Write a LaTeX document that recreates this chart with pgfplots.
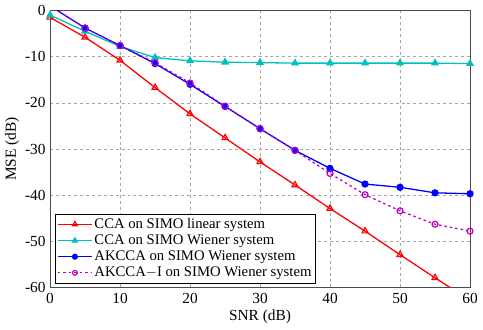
\documentclass[border=0pt]{standalone}
\usepackage{fontspec}
\setmainfont{Liberation Serif}
\usepackage{pgfplots}
\pgfplotsset{compat=1.18}

\definecolor{mcyan}{rgb}{0,0.75,0.75}
\definecolor{mmag}{rgb}{0.75,0,0.75}

\begin{document}
\fontsize{16}{19}\selectfont
\begin{tikzpicture}
\begin{axis}[
    scale only axis,
    width=423pt, height=279pt,
    xmin=0, xmax=60, ymin=-60, ymax=0,
    xtick={0,10,...,60}, ytick={-60,-50,...,0},
    /pgf/number format/assume math mode=true,
    tick label style={font=\fontsize{15.5}{18}\selectfont},
    yticklabel style={xshift=1pt},
    label style={font=\fontsize{15.5}{18}\selectfont},
    xlabel={SNR (dB)}, ylabel={MSE (dB)},
    xlabel style={yshift=4pt}, ylabel style={yshift=-5pt},
    grid=major,
    grid style={dashed, gray!70},
    major tick length=0pt,
    axis line style={black!70},
    legend cell align=left,
    legend style={font=\fontsize{14.8}{17}\selectfont, draw=black, inner sep=2pt,
        row sep=0pt, at={(0.012,0.016)}, anchor=south west},
    legend image code/.code={\draw[mark repeat=2,mark phase=2, every mark/.append style={scale=0.8}] plot coordinates {(0cm,0cm) (0.6cm,0cm) (1.2cm,0cm)};},
    every axis plot/.append style={line width=1.3pt},
]
\addplot[red, mark=triangle, mark size=3.5pt, mark options={solid, line width=1.2pt}] coordinates {
    (0,-1.5) (5,-5.8) (10,-10.8) (15,-16.7) (20,-22.4) (25,-27.6) (30,-32.8)
    (35,-37.8) (40,-42.9) (45,-47.8) (50,-52.9) (55,-57.9) (60,-62.8)
};
\addlegendentry{CCA on SIMO linear system}
\addplot[mcyan, mark=triangle*, mark size=3.5pt, mark options={solid}] coordinates {
    (0,-1.0) (5,-4.5) (10,-7.8) (15,-10.2) (20,-10.9) (25,-11.2) (30,-11.3)
    (35,-11.4) (40,-11.4) (45,-11.4) (50,-11.4) (55,-11.4) (60,-11.5)
};
\addlegendentry{CCA on SIMO Wiener system}
\addplot[blue, mark=*, mark size=3pt, mark options={solid}] coordinates {
    (0,1.0) (5,-3.8) (10,-7.6) (15,-11.5) (20,-16.0) (25,-20.8) (30,-25.6)
    (35,-30.3) (40,-34.2) (45,-37.6) (50,-38.3) (55,-39.5) (60,-39.7)
};
\addlegendentry{AKCCA on SIMO Wiener system}
\addplot[mmag, dash pattern=on 2.5pt off 3pt, mark=o, mark size=3pt, mark options={solid, line width=1.2pt}] coordinates {
    (0,1.0) (5,-3.8) (10,-7.6) (15,-11.3) (20,-15.7) (25,-20.7) (30,-25.6)
    (35,-30.3) (40,-35.3) (45,-39.9) (50,-43.4) (55,-46.3) (60,-47.8)
};
\addlegendentry{AKCCA$-$I on SIMO Wiener system}
\end{axis}
\end{tikzpicture}
\end{document}
